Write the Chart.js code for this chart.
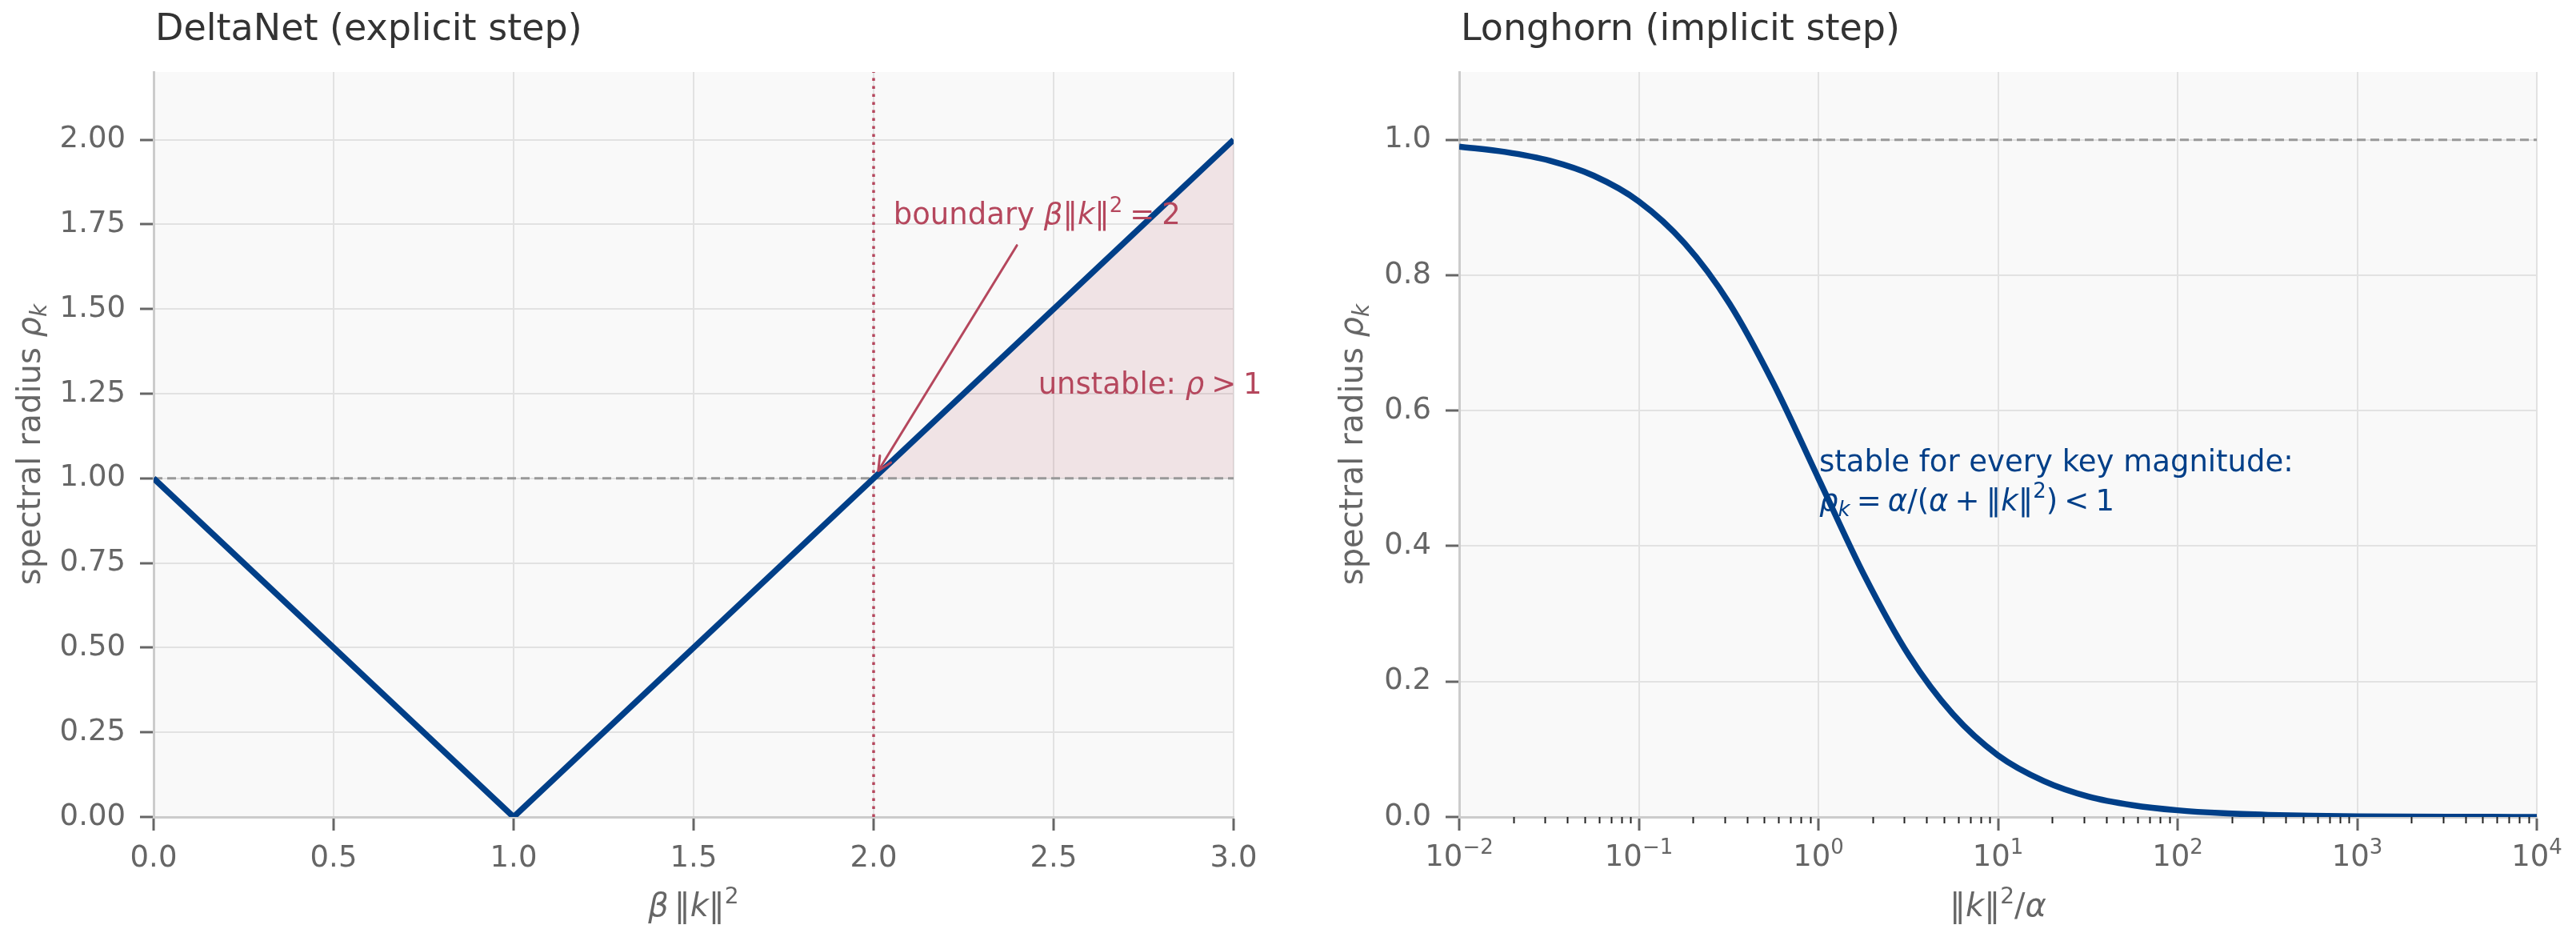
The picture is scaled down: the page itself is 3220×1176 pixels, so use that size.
<!DOCTYPE html>
<html>
<head>
<meta charset="utf-8">
<title>Spectral radius: DeltaNet vs Longhorn</title>
<script src="https://cdn.jsdelivr.net/npm/chart.js@4.4.1/dist/chart.umd.min.js"></script>
<style>
	html, body { margin: 0; padding: 0; background: #ffffff; }
	.panel { position: absolute; top: 0; width: 1610px; height: 1176px; }
	#left { left: 0; }
	#right { left: 1610px; }
</style>
</head>
<body>
<div class="panel" id="left"><canvas id="chart-delta"></canvas></div>
<div class="panel" id="right"><canvas id="chart-longhorn"></canvas></div>
<script>
// --- DeltaNet (explicit step): rho = |1 - beta*|k|^2|
const deltaX = [0, 1, 3];
const deltaRho = [1, 0, 2];
// shaded unstable part (rho > 1)
const unstableX = [2, 3];
const unstableRho = [1, 2];
const boundaryX = 2;
const thresholdRho = 1;
const deltaXTicks = [0, 0.5, 1, 1.5, 2, 2.5, 3];
const deltaYTicks = [0, 0.25, 0.5, 0.75, 1, 1.25, 1.5, 1.75, 2];

// --- Longhorn (implicit step), x = |k|^2/alpha on a log axis
const longX = [0.01, 0.018, 0.032, 0.056, 0.1, 0.18, 0.32, 0.56, 1, 1.8, 3.2, 5.6, 10, 18, 32, 56, 100, 180, 320, 560, 1000, 1800, 3200, 5600, 10000];
const longRho = [0.990, 0.982, 0.969, 0.947, 0.909, 0.847, 0.758, 0.641, 0.500, 0.357, 0.238, 0.152, 0.091, 0.053, 0.030, 0.0175, 0.0099, 0.0055, 0.0031, 0.0018, 0.001, 0.00056, 0.00031, 0.00018, 0.0001];
const longXTicks = [0.01, 0.1, 1, 10, 100, 1000, 10000];
const longYTicks = [0, 0.2, 0.4, 0.6, 0.8, 1.0];

const FONT = "'DejaVu Sans'";
const INK = '#666666';
const NAVY = '#003f88';
const ROSE = '#b5475d';
const GRID = '#e2e2e2';

Chart.defaults.font.family = FONT;
Chart.defaults.color = INK;

function pts(xs, ys) {
	return xs.map((x, i) => ({ x: x, y: ys[i] }));
}

// segments: {t, i: italic, sup, sub, gap (em)}
function segFont(s, size) {
	const sz = (s.sup || s.sub) ? Math.round(size * 0.7) : size;
	return (s.i ? 'italic ' : '') + sz + 'px ' + FONT;
}

function richWidth(ctx, segs, size) {
	let w = 0;
	for (const s of segs) {
		if (s.gap) { w += s.gap * size; continue; }
		ctx.font = segFont(s, size);
		w += ctx.measureText(s.t).width;
	}
	return w;
}

function drawRich(ctx, segs, x, y, size, color, align) {
	ctx.save();
	ctx.fillStyle = color;
	ctx.textAlign = 'left';
	ctx.textBaseline = 'alphabetic';
	const w = richWidth(ctx, segs, size);
	let cx = align === 'center' ? x - w / 2 : (align === 'right' ? x - w : x);
	for (const s of segs) {
		if (s.gap) { cx += s.gap * size; continue; }
		ctx.font = segFont(s, size);
		const dy = s.sup ? -size * 0.41 : (s.sub ? size * 0.2 : 0);
		ctx.fillText(s.t, cx, y + dy);
		cx += ctx.measureText(s.t).width;
	}
	ctx.restore();
}

function drawArrow(ctx, x1, y1, x2, y2, color) {
	const ang = Math.atan2(y2 - y1, x2 - x1);
	const ex = x2 - 11 * Math.cos(ang);
	const ey = y2 - 11 * Math.sin(ang);
	ctx.save();
	ctx.strokeStyle = color;
	ctx.lineWidth = 3;
	ctx.lineCap = 'round';
	ctx.beginPath();
	ctx.moveTo(x1, y1);
	ctx.lineTo(ex, ey);
	for (const d of [-0.44, 0.44]) {
		ctx.moveTo(ex, ey);
		ctx.lineTo(ex - 19 * Math.cos(ang + d), ey - 19 * Math.sin(ang + d));
	}
	ctx.stroke();
	ctx.restore();
}

function panelPlugin(cfg) {
	return {
		id: 'panel-' + cfg.name,
		beforeDraw(chart) {
			const a = chart.chartArea;
			const ctx = chart.ctx;
			ctx.save();
			ctx.fillStyle = '#f9f9f9';
			ctx.fillRect(a.left, a.top, a.right - a.left, a.bottom - a.top);
			ctx.restore();
		},
		afterDraw(chart) {
			const ctx = chart.ctx;
			const a = chart.chartArea;
			drawRich(ctx, [{ t: cfg.title }], a.left + 2, 50, 46, '#333333', 'left');
			drawRich(ctx, cfg.xlabel, (a.left + a.right) / 2, 1145, 40, INK, 'center');
			ctx.save();
			ctx.translate(cfg.ylabelX, (a.top + a.bottom) / 2);
			ctx.rotate(-Math.PI / 2);
			drawRich(ctx, cfg.ylabel, 0, 0, 40, INK, 'center');
			ctx.restore();
			if (cfg.extra) {
				cfg.extra(chart, ctx);
			}
		}
	};
}

const rhoLabel = [{ t: 'spectral radius ' }, { t: 'ρ', i: 1 }, { t: 'k', i: 1, sub: 1 }];

function baseOptions(rightPad, yWidth) {
	return {
		responsive: true,
		maintainAspectRatio: false,
		animation: false,
		devicePixelRatio: 1,
		events: [],
		layout: { padding: { left: 0, top: 90, right: rightPad, bottom: 0 } },
		plugins: { legend: { display: false }, tooltip: { enabled: false } },
		elements: { point: { radius: 0 }, line: { tension: 0 } },
		scales: {
			x: {
				afterFit: s => { s.height = 155; },
				grid: { color: GRID, lineWidth: 2, tickLength: 17, tickWidth: 3, tickColor: INK },
				border: { color: '#cccccc', width: 3 },
			},
			y: {
				min: 0,
				afterFit: s => { s.width = yWidth; },
				ticks: { color: INK, font: { size: 37 }, padding: 18, autoSkip: false },
				grid: { color: GRID, lineWidth: 2, tickLength: 17, tickWidth: 3, tickColor: INK },
				border: { color: '#cccccc', width: 3 },
			},
		},
	};
}

function renderDelta() {
	const opts = baseOptions(68, 192);
	Object.assign(opts.scales.x, {
		type: 'linear', min: 0, max: 3,
		afterBuildTicks: s => { s.ticks = deltaXTicks.map(v => ({ value: v })); },
		ticks: { color: INK, font: { size: 37 }, padding: 13, autoSkip: false, maxRotation: 0, callback: v => v.toFixed(1) },
	});
	Object.assign(opts.scales.y, { max: 2.2 });
	opts.scales.y.afterBuildTicks = s => { s.ticks = deltaYTicks.map(v => ({ value: v })); };
	opts.scales.y.ticks.callback = v => v.toFixed(2);

	new Chart(document.getElementById('chart-delta'), {
		type: 'line',
		data: {
			datasets: [
				{ data: pts(deltaX, deltaRho), borderColor: NAVY, borderWidth: 7.5, fill: false },
				{ data: pts([0, 3], [thresholdRho, thresholdRho]), borderColor: '#999999', borderWidth: 3, borderDash: [11, 6], fill: false },
				{ data: pts([boundaryX, boundaryX], [0, 2.2]), borderColor: ROSE, borderWidth: 3.5, borderDash: [3.5, 6.5], fill: false },
				{ data: pts(unstableX, unstableRho), borderWidth: 0, borderColor: 'rgba(0,0,0,0)', backgroundColor: 'rgba(181,71,93,0.12)', fill: { value: thresholdRho } },
			],
		},
		options: opts,
		plugins: [panelPlugin({
			name: 'delta',
			title: 'DeltaNet (explicit step)',
			xlabel: [{ t: 'β', i: 1 }, { gap: 0.17 }, { t: '‖' }, { t: 'k', i: 1 }, { t: '‖' }, { t: '2', sup: 1 }],
			ylabel: rhoLabel,
			ylabelX: 50,
			extra: (chart, ctx) => {
				const sx = chart.scales.x, sy = chart.scales.y;
				drawRich(ctx, [{ t: 'boundary ' }, { t: 'β', i: 1 }, { t: '‖' }, { t: 'k', i: 1 }, { t: '‖' }, { t: '2', sup: 1 }, { gap: 0.24 }, { t: '=' }, { gap: 0.24 }, { t: '2' }],
					sx.getPixelForValue(2.055), sy.getPixelForValue(1.75), 37, ROSE, 'left');
				drawArrow(ctx, sx.getPixelForValue(2.398), sy.getPixelForValue(1.688),
					sx.getPixelForValue(boundaryX), sy.getPixelForValue(thresholdRho), ROSE);
				drawRich(ctx, [{ t: 'unstable: ' }, { t: 'ρ', i: 1 }, { gap: 0.24 }, { t: '>' }, { gap: 0.24 }, { t: '1' }],
					sx.getPixelForValue(2.457), sy.getPixelForValue(1.25), 37, ROSE, 'left');
			},
		})],
	});
}

function renderLonghorn() {
	const opts = baseOptions(49, 214);
	Object.assign(opts.scales.x, {
		type: 'logarithmic', min: 0.01, max: 10000,
		afterBuildTicks: s => { s.ticks = longXTicks.map(v => ({ value: v, major: true })); },
		ticks: { display: false, autoSkip: false },
	});
	Object.assign(opts.scales.y, { max: 1.1 });
	opts.scales.y.afterBuildTicks = s => { s.ticks = longYTicks.map(v => ({ value: v })); };
	opts.scales.y.ticks.callback = v => v.toFixed(1);

	new Chart(document.getElementById('chart-longhorn'), {
		type: 'line',
		data: {
			datasets: [
				{ data: pts(longX, longRho), borderColor: NAVY, borderWidth: 7.5, cubicInterpolationMode: 'monotone', fill: false },
				{ data: pts([0.01, 10000], [thresholdRho, thresholdRho]), borderColor: '#999999', borderWidth: 3, borderDash: [11, 6], fill: false },
			],
		},
		options: opts,
		plugins: [panelPlugin({
			name: 'longhorn',
			title: 'Longhorn (implicit step)',
			xlabel: [{ t: '‖' }, { t: 'k', i: 1 }, { t: '‖' }, { t: '2', sup: 1 }, { t: '/' }, { t: 'α', i: 1 }],
			ylabel: rhoLabel,
			ylabelX: 93,
			extra: (chart, ctx) => {
				const sx = chart.scales.x, sy = chart.scales.y;
				const a = chart.chartArea;
				// tick labels 10^n
				for (const v of longXTicks) {
					const e = Math.round(Math.log10(v));
					const ex = e < 0 ? '\u2212' + (-e) : String(e);
					drawRich(ctx, [{ t: '10' }, { t: ex, sup: 1 }], sx.getPixelForValue(v), 1082, 37, INK, 'center');
				}
				// minor ticks
				ctx.save();
				ctx.strokeStyle = '#222222';
				ctx.lineWidth = 2;
				ctx.beginPath();
				for (const d of longXTicks.slice(0, -1)) {
					for (let m = 2; m <= 9; m++) {
						const x = Math.round(sx.getPixelForValue(m * d)) + 0.5;
						ctx.moveTo(x, a.bottom);
						ctx.lineTo(x, a.bottom + 8);
					}
				}
				ctx.stroke();
				ctx.restore();
				// note
				const nx = sx.getPixelForValue(1.01);
				const g = { gap: 0.22 };
				drawRich(ctx, [{ t: 'stable for every key magnitude:' }], nx, sy.getPixelForValue(0.511), 37, NAVY, 'left');
				drawRich(ctx, [{ t: 'ρ', i: 1 }, { t: 'k', i: 1, sub: 1 }, g, { t: '=' }, g, { t: 'α', i: 1 }, { t: '/(' }, { t: 'α', i: 1 }, g, { t: '+' }, g, { t: '‖' }, { t: 'k', i: 1 }, { t: '‖' }, { t: '2', sup: 1 }, { t: ')' }, g, { t: '<' }, g, { t: '1' }],
					nx, sy.getPixelForValue(0.453), 37, NAVY, 'left');
			},
		})],
	});
}

renderDelta();
renderLonghorn();
</script>
</body>
</html>
